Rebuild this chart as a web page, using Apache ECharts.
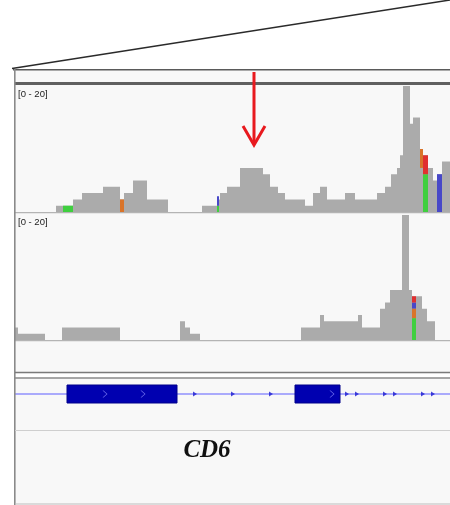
<!DOCTYPE html>
<html><head><meta charset="utf-8">
<script src="https://cdn.jsdelivr.net/npm/echarts@6/dist/echarts.min.js"></script>
<style>html,body{margin:0;padding:0;background:#fff}#c{width:450px;height:505px}</style>
</head><body><div id="c"></div>
<script>
// genomic window (relative units)
const windowStart = 0;
const windowEnd = 435;
const trackRange = [0, 20];
const rangeLabel = '[0 - 20]';

// coverage: [segment start, read depth] (depth holds until next start)
const track1Coverage = [[0,0],[41,1],[58,2],[67,3],[88,4],[105,2],[109,3],[118,5],[132,2],[153,0],[187,1],[202,2],[205,3],[212,4],[225,7],[248,6],[255,4],[263,3],[270,2],[290,1],[298,3],[305,4],[312,2],[330,3],[340,2],[362,3],[370,4],[376,6],[382,7],[385,9],[388,20],[395,14],[398,15],[405,10],[408,9],[413,7],[418,5],[422,6],[427,8],[435,8]];
const track2Coverage = [[0,2],[3,1],[30,0],[47,2],[105,0],[165,3],[170,2],[175,1],[185,0],[286,2],[305,4],[309,3],[343,4],[347,2],[365,5],[370,6],[375,8],[387,20],[394,8],[397,7],[407,5],[412,3],[420,0],[435,0]];

// mismatch columns: [start, end, depth from, depth to]
const track1A = [[48,58,0,1],[202,204,0,1],[408,413,0,6]];
const track1C = [[202,204,1,2.5],[422,427,0,6]];
const track1G = [[105,109,0,2],[405,408,7,10]];
const track1T = [[408,413,6,9]];
const track2A = [[397,401,0,3.5]];
const track2C = [[397,401,5,6]];
const track2G = [[397,401,3.5,5]];
const track2T = [[397,401,6,7]];

// gene model
const geneName = 'CD6';
const geneCenter = 192;
const exons = [[52,162],[280,325]];
const exonStrandMarks = [90,128,317];
const intronStrandMarks = [180,218,256,332,342,370,380,408,418];
const arrowPos = 239;

const chart = echarts.init(document.getElementById('c'), null, {renderer:'canvas'});

function rectItem(params, api){
  const p0 = api.coord([api.value(0), api.value(3)]);
  const p1 = api.coord([api.value(1), api.value(2)]);
  return {type:'rect', shape:{x:p0[0], y:p0[1], width:p1[0]-p0[0], height:p1[1]-p0[1]}, style: api.style()};
}
function exonItem(params, api){
  const p0 = api.coord([api.value(0), 0.5]);
  const p1 = api.coord([api.value(1), 0.5]);
  return {type:'rect', shape:{x:p0[0], y:p0[1]-9, width:p1[0]-p0[0], height:18}, style:{fill:'#0000b0', stroke:'#00008a', lineWidth:1}};
}
function covSeries(data, idx){
  return {type:'line', step:'end', data:data, xAxisIndex:idx, yAxisIndex:idx, symbol:'none',
    lineStyle:{width:0}, areaStyle:{color:'#ababab', opacity:1}, silent:true, animation:false, z:2};
}
function mmSeries(data, idx, color){
  return {type:'custom', renderItem:rectItem, data:data, xAxisIndex:idx, yAxisIndex:idx,
    encode:{x:[0,1], y:[2,3]}, itemStyle:{color:color}, silent:true, animation:false, z:3};
}
const xAx = i => ({type:'value', gridIndex:i, min:windowStart, max:windowEnd, show:false});
const yAx = (i, r) => ({type:'value', gridIndex:i, min:r[0], max:r[1], show:false});

const colA='#3fcf3f', colC='#4848c8', colG='#d9742a', colT='#e03030';

chart.setOption({
  backgroundColor:'#ffffff',
  animation:false,
  grid:[
    {left:15, right:0, top:86, height:126},
    {left:15, right:0, top:215, height:125},
    {left:15, right:0, top:380, height:28}
  ],
  xAxis:[xAx(0), xAx(1), xAx(2)],
  yAxis:[yAx(0,trackRange), yAx(1,trackRange), yAx(2,[0,1])],
  series:[
    covSeries(track1Coverage, 0),
    covSeries(track2Coverage, 1),
    mmSeries(track1A,0,colA), mmSeries(track1C,0,colC), mmSeries(track1G,0,colG), mmSeries(track1T,0,colT),
    mmSeries(track2A,1,colA), mmSeries(track2C,1,colC), mmSeries(track2G,1,colG), mmSeries(track2T,1,colT),
    {type:'line', data:[[windowStart,0.5],[windowEnd,0.5]], xAxisIndex:2, yAxisIndex:2, symbol:'none',
      lineStyle:{color:'#5c5cff', width:1}, silent:true, z:2},
    {type:'custom', renderItem:exonItem, data:exons, xAxisIndex:2, yAxisIndex:2, encode:{x:[0,1]}, silent:true, z:3},
    {type:'scatter', data:exonStrandMarks.map(v=>[v,0.5]), xAxisIndex:2, yAxisIndex:2,
      symbol:'path://M0,0L6,5L0,10L1.5,10L7.5,5L1.5,0Z', symbolSize:[5,7], itemStyle:{color:'#8c8cff'}, silent:true, z:4},
    {type:'scatter', data:intronStrandMarks.map(v=>[v,0.5]), xAxisIndex:2, yAxisIndex:2,
      symbol:'path://M0,0L10,5L0,10Z', symbolSize:[4,5], itemStyle:{color:'#1c1cd0'}, silent:true, z:4}
  ]
});

const ax = chart.convertToPixel({gridIndex:0}, [arrowPos, 0])[0];
const gx = chart.convertToPixel({gridIndex:2}, [geneCenter, 0])[0];

chart.setOption({
  graphic:[
    {type:'rect', shape:{x:14, y:69, width:436, height:436}, style:{fill:'#f8f8f8'}, z:-10, silent:true},
    {type:'line', shape:{x1:12, y1:68.5, x2:450, y2:0}, style:{stroke:'#2a2a2a', lineWidth:1.5}, z:5, silent:true},
    {type:'line', shape:{x1:13, y1:69.8, x2:450, y2:69.8}, style:{stroke:'#5a5a5a', lineWidth:1.4}, z:5, silent:true},
    {type:'line', shape:{x1:14, y1:83.5, x2:450, y2:83.5}, style:{stroke:'#606060', lineWidth:3}, z:5, silent:true},
    {type:'line', shape:{x1:14.8, y1:69, x2:14.8, y2:505}, style:{stroke:'#8a8a8a', lineWidth:1.6}, z:5, silent:true},
    {type:'line', shape:{x1:15, y1:212.6, x2:450, y2:212.6}, style:{stroke:'#b4b4b4', lineWidth:1.2}, z:1, silent:true},
    {type:'line', shape:{x1:15, y1:340.6, x2:450, y2:340.6}, style:{stroke:'#b4b4b4', lineWidth:1.2}, z:1, silent:true},
    {type:'line', shape:{x1:15, y1:372.5, x2:450, y2:372.5}, style:{stroke:'#7a7a7a', lineWidth:1.6}, z:5, silent:true},
    {type:'line', shape:{x1:15, y1:378, x2:450, y2:378}, style:{stroke:'#8a8a8a', lineWidth:1.4}, z:5, silent:true},
    {type:'rect', shape:{x:15, y:373.3, width:435, height:4}, style:{fill:'#ffffff'}, z:4, silent:true},
    {type:'line', shape:{x1:15, y1:430.5, x2:450, y2:430.5}, style:{stroke:'#cfcfcf', lineWidth:1}, z:5, silent:true},
    {type:'line', shape:{x1:15, y1:504, x2:450, y2:504}, style:{stroke:'#bdbdbd', lineWidth:1}, z:5, silent:true},
    {type:'text', x:18, y:89, style:{text:rangeLabel, fill:'#222', font:'9.5px "Liberation Sans", Arial, sans-serif'}, z:6, silent:true},
    {type:'text', x:18, y:217, style:{text:rangeLabel, fill:'#222', font:'9.5px "Liberation Sans", Arial, sans-serif'}, z:6, silent:true},
    {type:'text', x:gx, y:451, style:{text:geneName, fill:'#111', font:'italic bold 25px "Liberation Serif", "DejaVu Serif", serif', align:'center', verticalAlign:'middle'}, z:6, silent:true},
    {type:'line', shape:{x1:ax, y1:72, x2:ax, y2:143}, style:{stroke:'#e8191e', lineWidth:3}, z:7, silent:true},
    {type:'polyline', shape:{points:[[ax-11,126],[ax,145],[ax+11,126]]}, style:{stroke:'#e8191e', lineWidth:3, fill:null}, z:7, silent:true}
  ]
});
</script>
</body></html>
